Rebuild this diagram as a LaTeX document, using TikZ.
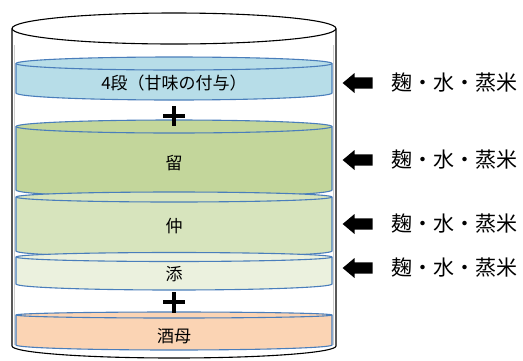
\documentclass[tikz,border=0pt]{standalone}
\usepackage{fontspec}
\setmainfont{Noto Sans CJK JP}
\usetikzlibrary{shapes.arrows}
\definecolor{edgeblue}{HTML}{4A7EBB}
\definecolor{cBlue}{HTML}{B7DDE8}
\definecolor{cOlive}{HTML}{C3D69B}
\definecolor{cLight}{HTML}{D7E4BD}
\definecolor{cPale}{HTML}{EBF1DE}
\definecolor{cPeach}{HTML}{FBD4B4}
\newcommand{\diskshape}[5]{%
  \filldraw[diskline, fill=#5] (16,#1) -- (16,#3)
    arc[start angle=180,end angle=360,x radius=158pt,y radius=#4pt] -- (332,#1)
    arc[start angle=0,end angle=180,x radius=158pt,y radius=#2pt] -- cycle;
  \draw[diskline] (16,#1) arc[start angle=180,end angle=360,x radius=158pt,y radius=#2pt];
}
\tikzset{
  diskline/.style={draw=edgeblue, line width=1.1pt},
  cyl/.style={draw=black, line width=1.1pt},
  lbl/.style={font=\fontsize{17}{17}\selectfont, inner sep=0pt},
  rtext/.style={font=\fontsize{21}{21}\selectfont, inner sep=0pt, anchor=west},
  leftarrow/.style={single arrow, shape border rotate=180, fill=black, draw=none,
    minimum height=30pt, minimum width=20pt, inner sep=5pt,
    single arrow head extend=4pt, single arrow tip angle=80},
  plussign/.style={line width=3.5pt, draw=black}
}
\begin{document}
\begin{tikzpicture}[x=1pt,y=-1pt]
\useasboundingbox (0,0) rectangle (523,360);
% outer cylinder
\draw[cyl, fill=white] (12,28.5) -- (12,346)
  arc[start angle=180,end angle=360,x radius=162pt,y radius=12pt] -- (336,28.5);
\draw[cyl] (174,28.5) ellipse[x radius=162pt, y radius=15.5pt];
\draw[gray!40, line width=0.8pt] (14.5,45) -- (14.5,345);
\draw[gray!40, line width=0.8pt] (333.5,45) -- (333.5,345);
% layers
\diskshape{63.5}{6.5}{93}{7}{cBlue}
\diskshape{126.5}{6.5}{190}{7}{cOlive}
\diskshape{197}{5}{251}{6}{cLight}
\diskshape{257}{4.5}{284}{6}{cPale}
\diskshape{315}{3}{345}{5}{cPeach}
% plus signs
\draw[plussign] (163,116) -- (185,116);
\draw[plussign] (174,106) -- (174,126);
\draw[plussign] (163,302) -- (185,302);
\draw[plussign] (174,292) -- (174,313);
% labels
\node[lbl] (l1) at (174,83) {4段（甘味の付与）};
\node[lbl] (l2) at (174,163) {留};
\node[lbl] (l3) at (174,226) {仲};
\node[lbl] (l4) at (174,274) {添};
\node[lbl] (l5) at (174,336) {酒母};
% arrows and inputs
\node[leftarrow] (a1) at (361,83) {};
\node[leftarrow] (a2) at (361,160) {};
\node[leftarrow] (a3) at (361,224) {};
\node[leftarrow] (a4) at (361,268) {};
\node[rtext] (t1) at (391,83) {麹・水・蒸米};
\node[rtext] (t2) at (391,160) {麹・水・蒸米};
\node[rtext] (t3) at (391,224) {麹・水・蒸米};
\node[rtext] (t4) at (391,268) {麹・水・蒸米};
\end{tikzpicture}
\end{document}
